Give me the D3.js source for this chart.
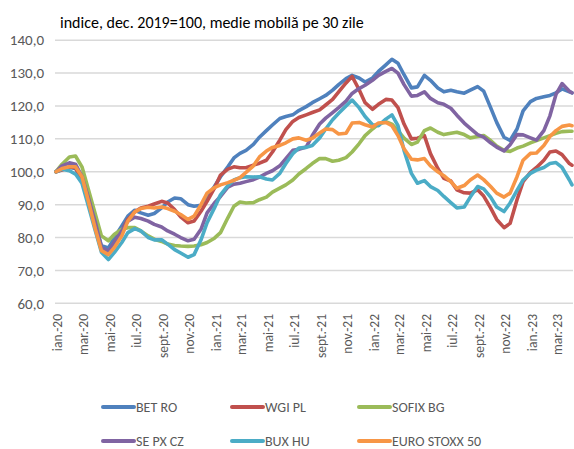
<!DOCTYPE html>
<html>
<head>
<meta charset="utf-8">
<script src="https://cdn.jsdelivr.net/npm/d3@7"></script>
<style>
  body { margin: 0; background: #fff; }
  svg text { font-family: Carlito, Calibri, "Liberation Sans Narrow", "Arial Narrow", sans-serif; }
</style>
</head>
<body>
<svg id="chart" width="574" height="449"></svg>
<script>
// semi-monthly sampling dates
const dates = [
  '2020-01-01','2020-01-15','2020-02-01','2020-02-15','2020-03-01','2020-03-15','2020-04-01','2020-04-15',
  '2020-05-01','2020-05-15','2020-06-01','2020-06-15','2020-07-01','2020-07-15','2020-08-01','2020-08-15',
  '2020-09-01','2020-09-15','2020-10-01','2020-10-15','2020-11-01','2020-11-15','2020-12-01','2020-12-15',
  '2021-01-01','2021-01-15','2021-02-01','2021-02-15','2021-03-01','2021-03-15','2021-04-01','2021-04-15',
  '2021-05-01','2021-05-15','2021-06-01','2021-06-15','2021-07-01','2021-07-15','2021-08-01','2021-08-15',
  '2021-09-01','2021-09-15','2021-10-01','2021-10-15','2021-11-01','2021-11-15','2021-12-01','2021-12-15',
  '2022-01-01','2022-01-15','2022-02-01','2022-02-15','2022-03-01','2022-03-15','2022-04-01','2022-04-15',
  '2022-05-01','2022-05-15','2022-06-01','2022-06-15','2022-07-01','2022-07-15','2022-08-01','2022-08-15',
  '2022-09-01','2022-09-15','2022-10-01','2022-10-15','2022-11-01','2022-11-15','2022-12-01','2022-12-15',
  '2023-01-01','2023-01-15','2023-02-01','2023-02-15','2023-03-01','2023-03-15','2023-04-01','2023-04-07'
]

const betRO = [
  100, 100.8, 101.3, 101, 98, 92, 84, 77.5, 76.8, 80, 83.5, 86.5, 88.3, 87.5, 86.8, 87.3,
  89, 90.8, 92, 91.8, 90, 89.5, 89.8, 92.3, 95.5, 98.5, 101.5, 104.2, 105.6, 106.5, 108.3, 110.5,
  112.5, 114.2, 116.2, 116.8, 117.3, 118.6, 119.8, 121, 122.2, 123.2, 124.8, 126.5, 128.3, 129.3, 128.5, 127.3,
  128.5, 130.5, 132.5, 134.2, 133, 129.5, 125.5, 125.8, 129.3, 127.8, 125.5, 124.3, 124.8, 124.3, 123.9, 124.8,
  125.9, 124.5, 119.5, 115, 110.5, 109.5, 113, 118.5, 121.3, 122.3, 122.8, 123.2, 124, 125.2, 124.3, 124
]
const wgiPL = [
  100, 100.5, 101.5, 101.2, 97.5, 91.5, 83.5, 76.5, 75, 78.5, 82, 85.5, 87.8, 89, 89.5, 90.2,
  91, 90.5, 88.5, 86.3, 84.5, 85, 88, 91, 95, 99, 100.8, 101.5, 101.2, 101.2, 102, 102.6,
  103.5, 106, 109.6, 112.8, 115.3, 116.5, 117.3, 118, 118.8, 120.3, 122, 124.3, 127, 129, 125, 121,
  119, 120.5, 122, 121.8, 119.5, 114.5, 110, 110.2, 111, 105.5, 101, 98, 97.2, 94.5, 93.6, 93.5,
  94.5, 92.6, 89, 85.5, 83, 84.3, 91.5, 97, 99.8, 101.3, 103.5, 106, 106.3, 105.2, 102.5, 102
]
const sofixBG = [
  100, 102.3, 104.5, 104.8, 101.5, 95, 87, 80.5, 79, 81, 82.5, 83, 83, 82, 80.5, 79.5,
  78.8, 78, 77.6, 77.4, 77.3, 77.4, 77.8, 78.5, 79.8, 81.5, 86, 89.5, 90.8, 90.5, 90.6, 91.5,
  92.3, 93.8, 95, 96, 97.5, 99.3, 101, 102.5, 104, 104, 103.2, 103.5, 104.3, 106, 108.5, 111,
  113, 114.5, 115.2, 114.5, 112.5, 110.2, 108.3, 109, 112.5, 113.3, 112, 111.3, 111.7, 112, 111.3, 110.3,
  110.7, 111, 109.5, 107.8, 106.5, 106.2, 107.2, 107.8, 108.8, 109.5, 110.3, 111, 111.7, 112.2, 112.3, 112.3
]
const sepxCZ = [
  100, 101.8, 102.7, 102.3, 98.5, 92.5, 84.5, 77, 75.8, 78.5, 82, 85, 86.2, 85.8, 85, 84,
  83.2, 82, 81, 80, 79, 79.5, 82.5, 87.5, 90.5, 92.5, 95.3, 96.2, 96.5, 97, 97.6, 98.4,
  99.5, 100.3, 101.8, 104, 106.5, 106.8, 107.5, 111, 114.5, 116.3, 118, 119.5, 121.5, 123.8, 125.3, 126.3,
  127.8, 129.3, 130.5, 131.4, 130, 126.5, 123, 123.2, 124.3, 122.3, 121, 120.5, 119.3, 117.2, 114.8, 113.2,
  111.3, 110.5, 108.8, 107.5, 106.3, 108.2, 111.3, 111.2, 110.3, 109.6, 112.5, 117, 123.5, 126.8, 124.5, 124
]
const buxHU = [
  100, 100.8, 100.3, 99.3, 96.5, 90, 82, 75.5, 73.3, 75.5, 78.5, 81.5, 82.7, 82, 80, 79.3,
  79.3, 78, 76.3, 75.3, 74, 74.8, 79.3, 84.5, 89, 93, 95.8, 97.5, 98.2, 98.5, 98.4, 98.5,
  97.8, 97.5, 99.5, 102.5, 105.5, 107.2, 107.4, 108, 110.3, 113, 115.8, 117.8, 120, 121.8, 119.5, 116.8,
  114.3, 114, 116, 117.3, 114, 106.5, 99.5, 96.5, 97.3, 95.5, 94.3, 92.5, 90.6, 89, 89.3, 92.3,
  95.5, 94.8, 92.3, 89.3, 87.9, 90.5, 94.3, 97.5, 99.5, 100.5, 101.3, 102.5, 102.8, 101.3, 97.5, 96
]
const euroStoxx = [
  100, 101, 101.5, 101.5, 98.5, 91.5, 82.5, 76, 74.8, 77, 80.5, 85, 87.8, 88.8, 89.2, 89,
  89.3, 88.8, 88, 87, 85.5, 86.5, 90, 93.5, 95.2, 96, 96.7, 97.4, 98.2, 99.8, 101.8, 104.5,
  106.3, 107.4, 108, 108.8, 110, 110.3, 109.6, 110.2, 111.8, 113, 112.8, 111.5, 111.7, 114.8, 115, 114.3,
  113.6, 114.8, 115, 114, 111, 107, 103.8, 103.6, 104, 101.8, 100, 98.8, 97, 95, 95.8, 97.5,
  99, 97.6, 95.5, 93.5, 92.3, 93.5, 98.5, 103.5, 105.6, 105.7, 108, 110.7, 112.5, 113.8, 114.2, 114
]

const seriesNames = ['BET RO', 'WGI PL', 'SOFIX BG', 'SE PX CZ', 'BUX HU', 'EURO STOXX 50']
const seriesColors = ['#4F81BD', '#C0504D', '#9BBB59', '#8064A2', '#4BACC6', '#F79646']
const seriesValues = [betRO, wgiPL, sofixBG, sepxCZ, buxHU, euroStoxx]

const yTicks = [60, 70, 80, 90, 100, 110, 120, 130, 140]
const xTickDates = ['2020-01-01','2020-03-01','2020-05-01','2020-07-01','2020-09-01','2020-11-01',
  '2021-01-01','2021-03-01','2021-05-01','2021-07-01','2021-09-01','2021-11-01',
  '2022-01-01','2022-03-01','2022-05-01','2022-07-01','2022-09-01','2022-11-01',
  '2023-01-01','2023-03-01']
const xTickLabels = ['ian.-20','mar.-20','mai-20','iul.-20','sept.-20','nov.-20',
  'ian.-21','mar.-21','mai-21','iul.-21','sept.-21','nov.-21',
  'ian.-22','mar.-22','mai-22','iul.-22','sept.-22','nov.-22',
  'ian.-23','mar.-23']

const titleText = 'indice, dec. 2019=100, medie mobilă pe 30 zile'

const parse = d3.timeParse('%Y-%m-%d')
const svg = d3.select('#chart')

const x = d3.scaleTime()
  .domain([parse('2020-01-01'), parse('2023-04-07')])
  .range([56, 572])
const y = d3.scaleLinear()
  .domain([60, 140])
  .range([303.3, 40.2])

// gridlines
svg.append('g')
  .selectAll('line')
  .data(yTicks)
  .join('line')
  .attr('x1', 55).attr('x2', 573)
  .attr('y1', d => y(d)).attr('y2', d => y(d))
  .attr('stroke', '#d9d9d9')
  .attr('stroke-width', 1.5)

// y labels
svg.append('g')
  .selectAll('text')
  .data(yTicks)
  .join('text')
  .attr('x', 44)
  .attr('y', d => y(d))
  .attr('dy', '0.35em')
  .attr('text-anchor', 'end')
  .attr('font-size', 15)
  .attr('fill', '#595959')
  .text(d => d3.format('.1f')(d).replace('.', ','))

// x labels, rotated
svg.append('g')
  .selectAll('text')
  .data(xTickDates)
  .join('text')
  .attr('transform', d => 'translate(' + (x(parse(d)) + 1.5) + ',314) rotate(-90)')
  .attr('dy', '0.35em')
  .attr('text-anchor', 'end')
  .attr('font-size', 13.5)
  .attr('fill', '#595959')
  .text((d, i) => xTickLabels[i])

// lines
const line = d3.line()
  .x((d, i) => x(parse(dates[i])))
  .y(d => y(d))

svg.append('g')
  .selectAll('path')
  .data(seriesValues)
  .join('path')
  .attr('d', d => line(d))
  .attr('fill', 'none')
  .attr('stroke', (d, i) => seriesColors[i])
  .attr('stroke-width', 3.6)
  .attr('stroke-linejoin', 'round')
  .attr('stroke-linecap', 'round')

// title
svg.append('text')
  .attr('x', 60)
  .attr('y', 28)
  .attr('font-size', 16)
  .attr('fill', '#000')
  .text(titleText)

// legend
const legCols = [103, 232, 359]
const legRows = [407, 441]
const leg = svg.append('g')
  .selectAll('g')
  .data(seriesNames)
  .join('g')
  .attr('transform', (d, i) => 'translate(' + legCols[i % 3] + ',' + legRows[Math.floor(i / 3)] + ')')
leg.append('line')
  .attr('x1', 0).attr('x2', 31)
  .attr('stroke', (d, i) => seriesColors[i])
  .attr('stroke-width', 4)
  .attr('stroke-linecap', 'round')
leg.append('text')
  .attr('x', 33)
  .attr('dy', '0.35em')
  .attr('font-size', 14)
  .attr('fill', '#595959')
  .text(d => d)
</script>
</body>
</html>
